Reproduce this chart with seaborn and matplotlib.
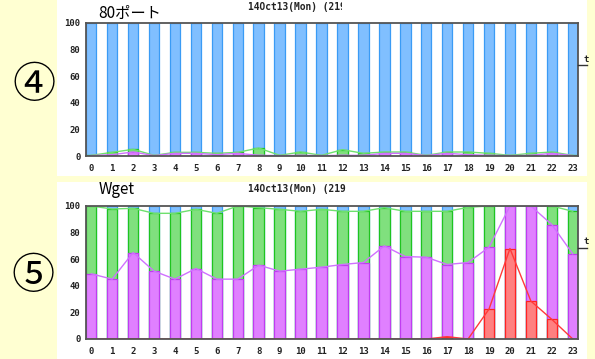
import matplotlib.pyplot as plt
from matplotlib.patches import Rectangle
from matplotlib.lines import Line2D
from matplotlib.transforms import Bbox
import seaborn as sns

W, H = 595, 359
BG = "#FFFFD2"

hours = list(range(24))
yticks = [0, 20, 40, 60, 80, 100]
date_label = "14Oct13(Mon) (219"

# panel 4 - "80ポート": tops of each stacked band (%)
p4_blue_top = [100] * 24
p4_green_top = [0.5, 2.75, 5, 0.5, 2.75, 2.75, 2, 2.75, 6, 0.5, 3, 0.5,
                4.75, 2, 3, 3, 0.5, 3, 3, 2, 0.5, 2, 3, 0.5]
p4_magenta_top = [0.3, 1, 3, 0.3, 2, 2, 1, 2, 0.5, 0.3, 0.5, 0.3,
                  0.5, 0.5, 2, 2, 0.3, 2, 1, 0.5, 0.3, 0.5, 2, 0.3]

# panel 5 - "Wget"
p5_blue_top = [100] * 24
p5_green_top = [100, 97.75, 98.25, 94.5, 94.5, 97.5, 94.5, 100, 98.75, 97.5, 96, 97.5,
                96, 96, 98.75, 96, 96, 96, 99, 100, 100, 100, 100, 96]
p5_magenta_top = [49, 45, 65, 51, 45, 53, 45, 45, 55.5, 51, 52.5, 54,
                  56, 57.5, 70, 62, 61.5, 56, 57.5, 69, 100, 100, 86, 64]
p5_red_top = [0, 0, 0, 0, 0, 0, 0, 0, 0, 0, 0, 0,
              0, 0, 0, 0, 0, 1.75, 0, 22.5, 68, 28.5, 14.75, 0]

# colours: (face, edge, line)
BLUE = ("#80BFFF", "#3A9BF5", None)
GREEN = ("#80E07E", "#1FC41F", "#6EE06E")
MAGENTA = ("#E080FF", "#C03CF0", "#D070FF")
RED = ("#FF8080", "#FF2222", "#FF3A3A")


def fy(y):
    return 1 - y / H


def draw_panel(ax, layers):
    # draw bands from the highest cumulative level down so they stack
    for tops, (face, edge, line) in layers:
        sns.barplot(x=hours, y=tops, color=face, edgecolor=edge, linewidth=0.9,
                    width=0.5, saturation=1, errorbar=None, ax=ax)
    for tops, (face, edge, line) in layers:
        if line is not None:
            sns.lineplot(x=hours, y=tops, color=line, linewidth=1.0, ax=ax, zorder=2)
    ax.set_xlim(-0.25, 23.25)
    ax.set_ylim(0, 100)
    ax.set_yticks(yticks)
    ax.set_xlabel("")
    ax.set_ylabel("")
    ax.set_facecolor("white")
    ax.tick_params(length=0, labelsize=6.5, colors="#222222")
    ax.tick_params(axis="x", pad=6)
    ax.tick_params(axis="y", pad=4)
    for lbl in ax.get_xticklabels() + ax.get_yticklabels():
        lbl.set_fontfamily("DejaVu Sans Mono")
        lbl.set_fontweight("bold")
    for s in ax.spines.values():
        s.set_visible(True)
        s.set_color("#555555")
        s.set_linewidth(1.3)


fig = plt.figure(figsize=(W / 100, H / 100), dpi=100, facecolor=BG)

# white panel backgrounds (behind the axes)
fig.patches.append(Rectangle((57 / W, fy(176)), 530 / W, 176 / H, zorder=-5,
                             transform=fig.transFigure, facecolor="white", edgecolor="none"))
fig.patches.append(Rectangle((57 / W, 0), 530 / W, fy(182), zorder=-5,
                             transform=fig.transFigure, facecolor="white", edgecolor="none"))

ax1 = fig.add_axes([86 / W, fy(156), 492 / W, 133 / H])
draw_panel(ax1, [(p4_blue_top, BLUE), (p4_green_top, GREEN), (p4_magenta_top, MAGENTA)])

ax2 = fig.add_axes([86 / W, fy(339), 492 / W, 133 / H])
draw_panel(ax2, [(p5_blue_top, BLUE), (p5_green_top, GREEN),
                 (p5_magenta_top, MAGENTA), (p5_red_top, RED)])

# titles
fig.text(98 / W, fy(13), "80ポート", fontsize=11, va="center",
         family=["Noto Sans CJK JP", "DejaVu Sans"])
fig.text(99 / W, fy(190), "Wget", fontsize=11, va="center",
         family=["Noto Sans CJK JP", "DejaVu Sans"])

for ypix, clip_x in [(7, 342), (189, 350)]:
    t = fig.text(248 / W, fy(ypix), date_label, fontsize=6.9, va="center",
                 family="DejaVu Sans Mono", fontweight="bold", color="#222222")
    t.set_clip_box(Bbox.from_extents(0, 0, clip_x, H))
    t.set_clip_on(True)

# cut-off legend pieces on the right edge
for ypix in [65, 248]:
    fig.lines.append(Line2D([578 / W, 587 / W], [fy(ypix), fy(ypix)],
                            transform=fig.transFigure, color="#333333", linewidth=1))
    fig.text(583 / W, fy(ypix - 6), "t", fontsize=6.5, va="center",
             family="DejaVu Sans Mono", fontweight="bold", color="#222222")

# circled panel numbers
fig.text(34 / W, fy(86), "④", fontsize=31, ha="center", va="center",
         family=["DejaVu Serif", "Noto Sans CJK JP", "DejaVu Sans"])
fig.text(33 / W, fy(277), "⑤", fontsize=31, ha="center", va="center",
         family=["DejaVu Serif", "Noto Sans CJK JP", "DejaVu Sans"])

fig.savefig("out.png", dpi=100, facecolor=BG)
